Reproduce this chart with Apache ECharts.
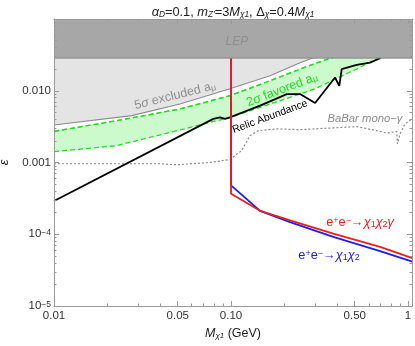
<!DOCTYPE html>
<html><head><meta charset="utf-8">
<script src="https://cdn.jsdelivr.net/npm/echarts@6/dist/echarts.min.js"></script>
<style>html,body{margin:0;padding:0;background:#fff}#c{width:415px;height:346px}</style>
</head><body><div id="c"></div>
<script>
// ---- axes ----
const xRange = [0.01, 1.053];
const yRange = [1e-5, 0.1];
const xTickValues = [0.01, 0.05, 0.1, 0.5, 1];
const xTickLabels = ['0.01', '0.05', '0.10', '0.50', '1'];
const xMinorTicks = [0.02,0.03,0.04,0.06,0.07,0.08,0.09,0.2,0.3,0.4,0.6,0.7,0.8,0.9];
const yTickValues = [1e-5, 1e-4, 1e-3, 1e-2, 1e-1];
const yTickLabels = ['{b|10}{sup|−5}', '{b|10}{sup|−4}', '0.001', '0.010', ''];
const yMinorTicks = [2e-5,3e-5,4e-5,5e-5,6e-5,7e-5,8e-5,9e-5,2e-4,3e-4,4e-4,5e-4,6e-4,7e-4,8e-4,9e-4,
  2e-3,3e-3,4e-3,5e-3,6e-3,7e-3,8e-3,9e-3,0.02,0.03,0.04,0.05,0.06,0.07,0.08,0.09];

// ---- data ----
const lepX = [0.01, 1.06];
const lepY = [0.0285, 0.0285];
const amuExclX = [0.01, 0.0275, 0.0515, 0.0986, 0.166, 0.2455, 0.287, 1.06];
const amuExclY = [3.34e-3, 4.5e-3, 6.53e-3, 0.01067, 0.01615, 0.0245, 0.0284, 0.05];
const amuFavUpX = [0.01, 0.0227, 0.0515, 0.0986, 0.166, 0.2455, 0.362, 1.06];
const amuFavUpY = [2.72e-3, 3.83e-3, 5.57e-3, 8.53e-3, 0.01377, 0.0200, 0.0284, 0.05];
const amuFavLoX = [0.01, 0.0226, 0.0515, 0.0986, 0.2455, 0.2985, 0.413, 0.515, 0.678, 1.06];
const amuFavLoY = [1.42e-3, 1.72e-3, 2.84e-3, 4.25e-3, 9.0e-3, 0.01067, 0.01563, 0.02023, 0.0284, 0.05];
const babarX = [0.01, 0.0397, 0.0493, 0.076, 0.0986, 0.1149, 0.128, 0.1426, 0.182, 0.2455, 0.513, 0.637, 0.759, 0.863, 0.872, 0.902, 0.962, 1.04];
const babarY = [9.6e-4, 9.6e-4, 9.3e-4, 1.0e-3, 1.10e-3, 1.47e-3, 2.37e-3, 2.78e-3, 2.94e-3, 2.87e-3, 3.16e-3, 2.84e-3, 2.58e-3, 2.70e-3, 1.82e-3, 2.51e-3, 3.45e-3, 3.95e-3];
const relicX = [0.01, 0.0794, 0.0867, 0.0925, 0.0986, 0.146, 0.2066, 0.2455, 0.2985, 0.387, 0.409, 0.422, 0.513, 0.610, 0.695, 0.75];
const relicY = [2.9e-4, 4.05e-3, 4.25e-3, 4.05e-3, 4.25e-3, 6.19e-3, 8.99e-3, 9.0e-3, 6.75e-3, 0.01531, 0.01172, 0.0200, 0.02296, 0.0247, 0.0284, 0.035];
const gammaX = [0.1, 0.1, 0.146, 0.2154, 0.378, 0.695, 1.067];
const gammaY = [0.0285, 3.67e-4, 2.12e-4, 1.56e-4, 1.02e-4, 6.67e-5, 4.6e-5];
const pairX = [0.1, 0.1, 0.146, 0.2154, 0.378, 0.695, 1.067];
const pairY = [0.0285, 4.8e-4, 2.12e-4, 1.48e-4, 9.17e-5, 5.81e-5, 4.12e-5];

// ---- annotations (anchored in data coordinates) ----
const notes = [
  {text: 'LEP', at: [0.108, 0.0484], rot: 0, color: '#8e8e8e', size: 12, italic: true},
  {text: '5{i|σ} excluded a{sub|μ}', at: [0.0483, 8.53e-3], rot: 14, color: '#8e8e8e', size: 12.5},
  {text: '2{i|σ} favored a{sub|μ}', at: [0.194, 0.0103], rot: 21, color: '#22dd22', size: 12.5},
  {text: 'Relic Abundance', at: [0.166, 4.35e-3], rot: 20, color: '#000', size: 10.5},
  {text: 'BaBar mono−{i|γ}', at: [0.571, 4.08e-3], rot: 0, color: '#8e8e8e', size: 11.3, italic: true},
  {text: 'e{sup|+}e{sup|−}→{i|χ}{sub|1}{i|χ}{sub|2}{i|γ}', at: [0.536, 1.48e-4], rot: 0, color: '#ee1c1c', size: 12.8},
  {text: 'e{sup|+}e{sup|−}→{i|χ}{sub|1}{i|χ}{sub|2}', at: [0.358, 5.1e-5], rot: 0, color: '#1c1cee', size: 12.8}
];

const FONT = '"Liberation Sans", Arial, sans-serif';
const FRAME = '#9a9a9a';
const GRID = {left: 54, right: 3, top: 19, bottom: 40};
const lg = Math.log10;
const zip = (xs, ys) => xs.map((x, i) => [x, ys[i]]);

function fmt(vals, labels) {
  return v => { for (let i = 0; i < vals.length; i++) if (Math.abs(lg(vals[i]) - v) < 1e-6) return labels[i]; return ''; };
}
function frameAxes(dim, range, majors, minors, labels) {
  const isX = dim === 'x';
  const posA = isX ? 'bottom' : 'left', posB = isX ? 'top' : 'right';
  const mn = lg(range[0]), mx = lg(range[1]);
  const majL = majors.map(lg), minL = minors.map(lg);
  const base = {type: 'value', min: mn, max: mx, splitLine: {show: false}, scale: true, z: 10};
  const mk = (pos, isMajor, withLabel, line) => Object.assign({}, base, {
    position: pos,
    axisLine: {show: line, onZero: false, lineStyle: {color: FRAME, width: 1}},
    axisTick: {show: true, inside: true, length: isMajor ? 5 : 2.5, customValues: isMajor ? majL : minL, lineStyle: {color: FRAME, width: 1}},
    axisLabel: withLabel ? {show: true, customValues: majL, formatter: fmt(majors, labels), color: '#333', fontSize: 11.5, fontFamily: FONT, margin: isX ? 4 : 3,
      rich: {b: {fontSize: 11.5, fontFamily: FONT, color: '#333'}, sup: {fontSize: 8.5, fontFamily: FONT, color: '#333', verticalAlign: 'top', lineHeight: 8}}} : {show: false}
  });
  return [mk(posA, true, true, true), mk(posA, false, false, false), mk(posB, true, false, true), mk(posB, false, false, false)];
}

const xAxes = [{type: 'log', logBase: 10, min: xRange[0], max: xRange[1], show: false}].concat(frameAxes('x', xRange, xTickValues, xMinorTicks, xTickLabels));
const yAxes = [{type: 'log', logBase: 10, min: yRange[0], max: yRange[1], show: false}].concat(frameAxes('y', yRange, yTickValues, yMinorTicks, yTickLabels));
xAxes[1].name = '{i|M}{sub|χ1} (GeV)';
xAxes[1].nameLocation = 'middle';
xAxes[1].nameGap = 18;
xAxes[1].nameTextStyle = {fontSize: 12.5, fontFamily: FONT, color: '#222',
  rich: {i: {fontStyle: 'italic', fontSize: 12.5, fontFamily: FONT, color: '#222'}, sub: {fontSize: 8, fontStyle: 'italic', fontFamily: FONT, color: '#222', verticalAlign: 'bottom', lineHeight: 8}}};
yAxes[1].name = 'ε';
yAxes[1].nameLocation = 'middle';
yAxes[1].nameGap = 40;
yAxes[1].nameRotate = 90;
yAxes[1].nameTextStyle = {fontSize: 13, fontStyle: 'italic', fontFamily: FONT, color: '#222'};

const lineBase = {type: 'line', xAxisIndex: 0, yAxisIndex: 0, showSymbol: false, symbol: 'none', smooth: false, animation: false, silent: true, z: 2};
const S = (o) => Object.assign({}, lineBase, o);

const series = [
  S({name: '5σ excluded', data: zip(amuExclX, amuExclY), lineStyle: {color: '#8c8c8c', width: 1.1}, areaStyle: {color: '#e4e4e4', opacity: 1, origin: 'end'}}),
  S({name: '2σ upper', data: zip(amuFavUpX, amuFavUpY), lineStyle: {color: '#22dd22', width: 1.3, type: [5, 3]}, areaStyle: {color: '#ccfacc', opacity: 1, origin: 'start'}}),
  S({name: '2σ lower', data: zip(amuFavLoX, amuFavLoY), lineStyle: {color: '#22dd22', width: 1.3, type: [5, 3]}, areaStyle: {color: '#ffffff', opacity: 1, origin: 'start'}}),
  S({name: '2σ upper line', data: zip(amuFavUpX, amuFavUpY), lineStyle: {color: '#22dd22', width: 1.3, type: [5, 3]}}),
  S({name: 'BaBar', data: zip(babarX, babarY), lineStyle: {color: '#8c8c8c', width: 1.2, type: [2, 2]}}),
  S({name: 'Relic', data: zip(relicX, relicY), lineStyle: {color: '#000', width: 1.8}}),
  S({name: 'pair', data: zip(pairX, pairY), lineStyle: {color: '#1c1cee', width: 1.8}}),
  S({name: 'gamma', data: zip(gammaX, gammaY), lineStyle: {color: '#ee1c1c', width: 1.8}}),
  S({name: 'LEP', z: 5, data: zip(lepX, lepY), lineStyle: {color: '#858585', width: 1}, areaStyle: {color: '#a7a7a7', opacity: 1, origin: 'end'}})
];

const chart = echarts.init(document.getElementById('c'), null, {renderer: 'canvas'});
chart.setOption({
  animation: false,
  backgroundColor: '#fff',
  grid: Object.assign({outerBoundsMode: 'none', containLabel: false}, GRID),
  xAxis: xAxes,
  yAxis: yAxes,
  series: series
});

const richBase = (c, s) => ({
  i: {fontStyle: 'italic', fontSize: s, fontFamily: FONT, fill: c, color: c},
  sub: {fontSize: s * 0.7, fontFamily: FONT, fill: c, color: c, verticalAlign: 'bottom', lineHeight: s * 0.7},
  sup: {fontSize: s * 0.7, fontFamily: FONT, fill: c, color: c, verticalAlign: 'top', lineHeight: s * 0.7}
});
const graphics = notes.map(n => {
  const p = chart.convertToPixel({xAxisIndex: 0, yAxisIndex: 0}, n.at);
  return {type: 'text', x: p[0], y: p[1], rotation: n.rot * Math.PI / 180, z: 100, silent: true,
    style: {text: n.text, fill: n.color, font: (n.italic ? 'italic ' : '') + n.size + 'px ' + FONT, align: 'center', verticalAlign: 'middle', rich: richBase(n.color, n.size)}};
});
const plotCenterX = GRID.left + (415 - GRID.left - GRID.right) / 2;
graphics.push({type: 'text', x: plotCenterX, y: 12, z: 100, silent: true,
  style: {text: '{i|α}{sub|D}=0.1, {i|m}{sub|Z\'}=3{i|M}{sub|χ1}, Δ{sub|χ}=0.4{i|M}{sub|χ1}', fill: '#222', font: '12.8px ' + FONT, align: 'center', verticalAlign: 'middle',
    rich: {i: {fontStyle: 'italic', fontSize: 12.8, fontFamily: FONT, fill: '#222'},
      sub: {fontSize: 8.3, fontStyle: 'italic', fontFamily: FONT, fill: '#222', verticalAlign: 'bottom', lineHeight: 8}}}});
chart.setOption({graphic: graphics});
</script></body></html>
